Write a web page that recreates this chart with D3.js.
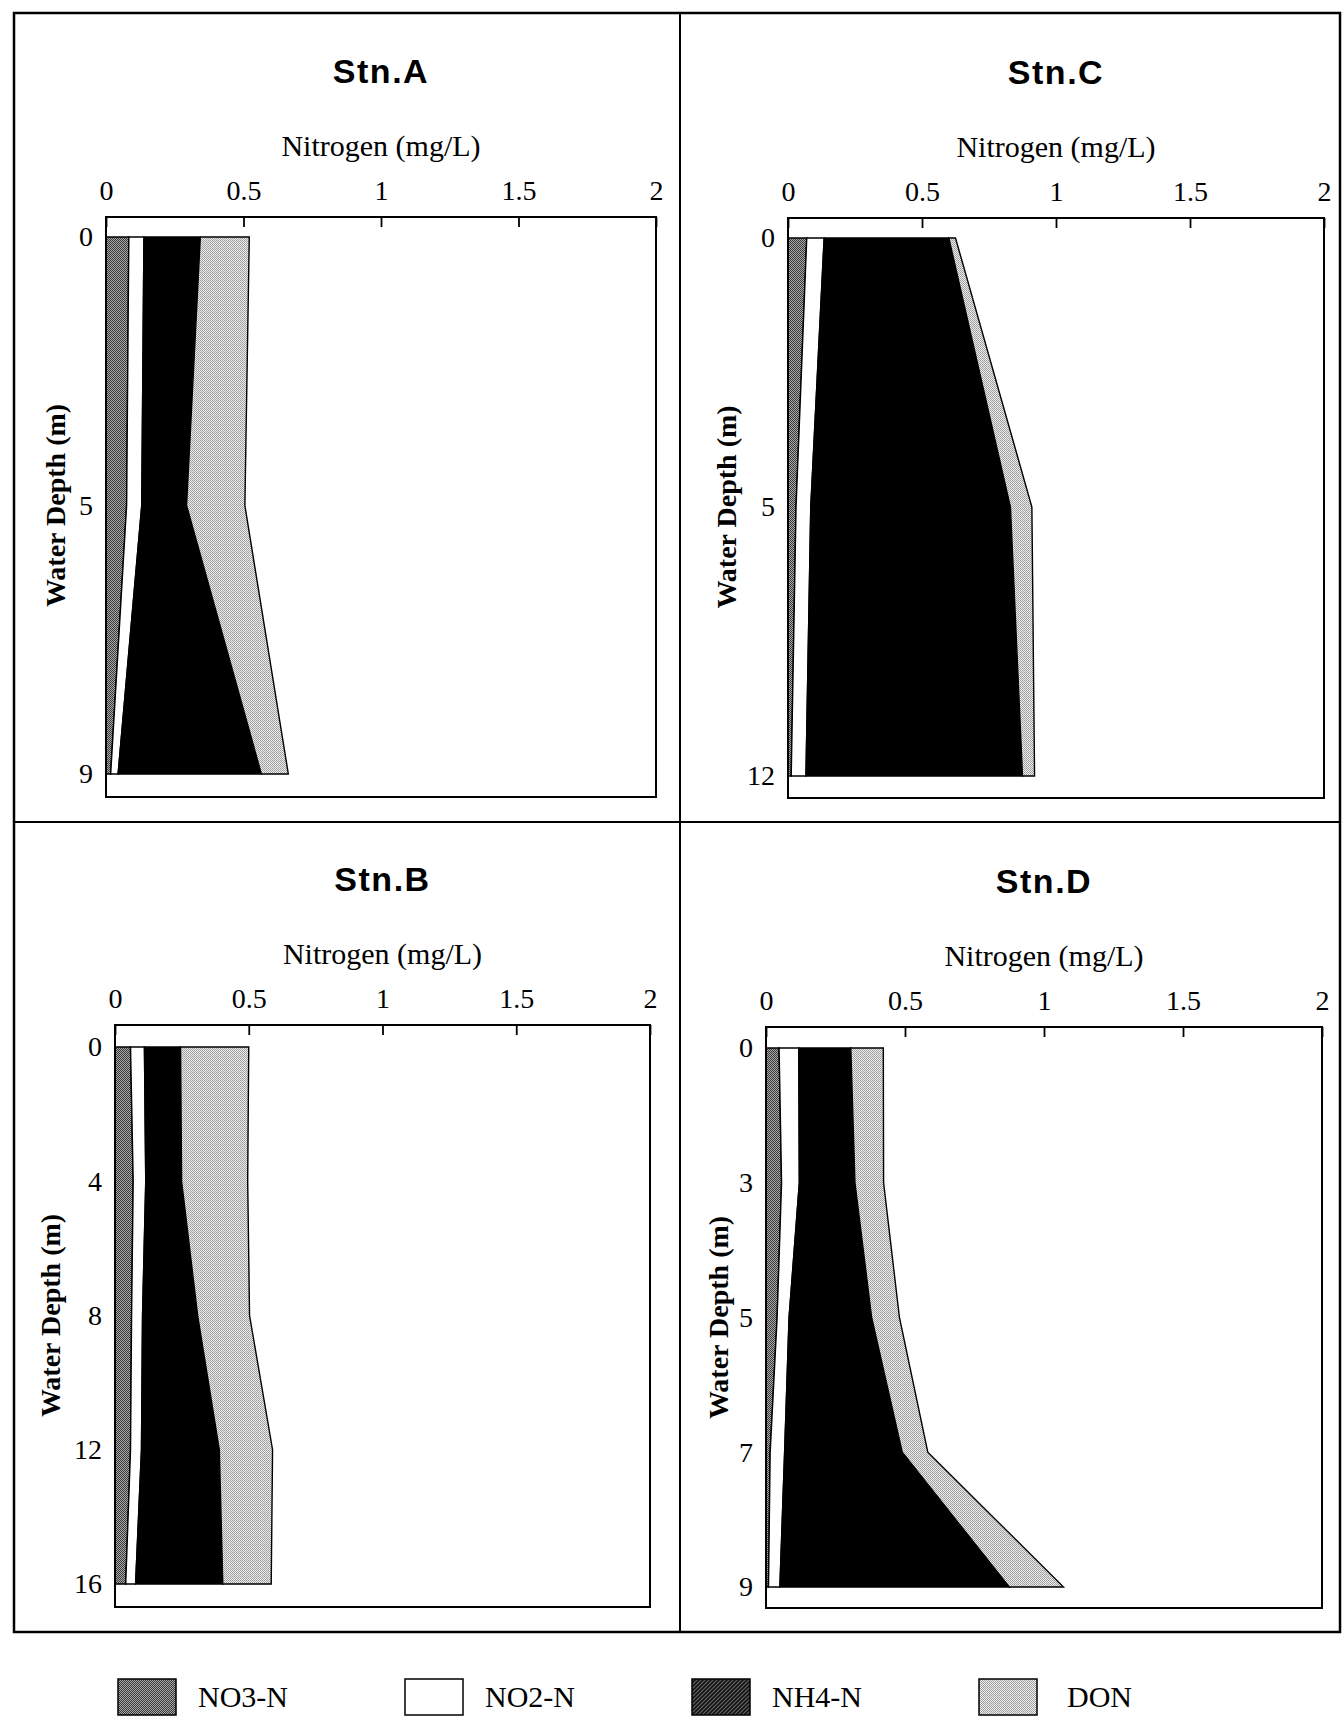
<!DOCTYPE html>
<html>
<head>
<meta charset="utf-8">
<script src="https://cdn.jsdelivr.net/npm/d3@7"></script>
<style>
  body { margin: 0; background: #fff; }
  svg { display: block; }
</style>
</head>
<body>
<svg id="chart" width="1342" height="1716"></svg>
<script>
// 系列名（由左至右堆疊）
const keys = ['NO3-N', 'NO2-N', 'NH4-N', 'DON']
const xTicks = [0, 0.5, 1, 1.5, 2]

// 各測站採樣深度 (m)
const depthA = [0, 5, 9]
const depthB = [0, 4, 8, 12, 16]
const depthC = [0, 5, 12]
const depthD = [0, 3, 5, 7, 9]

// 各測站濃度 (mg/L)
const no3A = [0.083, 0.075, 0.017]
const no2A = [0.055, 0.055, 0.027]
const nh4A = [0.205, 0.163, 0.521]
const donA = [0.178, 0.212, 0.098]

const no3B = [0.058, 0.068, 0.062, 0.058, 0.040]
const no2B = [0.052, 0.047, 0.041, 0.041, 0.037]
const nh4B = [0.135, 0.134, 0.206, 0.291, 0.326]
const donB = [0.255, 0.247, 0.194, 0.199, 0.181]

const no3C = [0.070, 0.030, 0.012]
const no2C = [0.065, 0.055, 0.055]
const nh4C = [0.465, 0.745, 0.808]
const donC = [0.025, 0.080, 0.045]

const no3D = [0.047, 0.056, 0.040, 0.015, 0.009]
const no2D = [0.071, 0.064, 0.043, 0.052, 0.041]
const nh4D = [0.187, 0.200, 0.297, 0.423, 0.825]
const donD = [0.117, 0.103, 0.100, 0.092, 0.195]

const svg = d3.select('#chart')

// 填充圖樣（模仿網點）
const defs = svg.append('defs')
const p1 = defs.append('pattern').attr('id', 'pNO3').attr('width', 2).attr('height', 2).attr('patternUnits', 'userSpaceOnUse')
p1.append('rect').attr('width', 2).attr('height', 2).attr('fill', '#a8a8a8')
p1.append('rect').attr('width', 1).attr('height', 1).attr('fill', '#3a3a3a')
p1.append('rect').attr('x', 1).attr('y', 1).attr('width', 1).attr('height', 1).attr('fill', '#3a3a3a')

const p2 = defs.append('pattern').attr('id', 'pDON').attr('width', 2).attr('height', 2).attr('patternUnits', 'userSpaceOnUse')
p2.append('rect').attr('width', 2).attr('height', 2).attr('fill', '#ececec')
p2.append('rect').attr('width', 1).attr('height', 1).attr('fill', '#9a9a9a')
p2.append('rect').attr('x', 1).attr('y', 1).attr('width', 1).attr('height', 1).attr('fill', '#a6a6a6')

const p3 = defs.append('pattern').attr('id', 'pNH4').attr('width', 4).attr('height', 4).attr('patternUnits', 'userSpaceOnUse')
p3.append('rect').attr('width', 4).attr('height', 4).attr('fill', '#666')
p3.append('path').attr('d', 'M-1,5 L5,-1 M-1,1 L1,-1 M3,5 L5,3').attr('stroke', '#111').attr('stroke-width', 1.6)

const fills = { 'NO3-N': 'url(#pNO3)', 'NO2-N': '#fff', 'NH4-N': '#000', DON: 'url(#pDON)' }
const legendFills = { 'NO3-N': 'url(#pNO3)', 'NO2-N': '#fff', 'NH4-N': 'url(#pNH4)', DON: 'url(#pDON)' }

// 面板位置
const panels = [
    { name: 'Stn.A', depth: depthA, vals: [no3A, no2A, nh4A, donA], x0: 106, x1: 656, top: 217, bottom: 797, d0: 237, d1: 774, yLab: 55 },
    { name: 'Stn.C', depth: depthC, vals: [no3C, no2C, nh4C, donC], x0: 788, x1: 1324, top: 218, bottom: 798, d0: 238, d1: 776, yLab: 726 },
    { name: 'Stn.B', depth: depthB, vals: [no3B, no2B, nh4B, donB], x0: 115, x1: 650, top: 1025, bottom: 1607, d0: 1047, d1: 1584, yLab: 50 },
    { name: 'Stn.D', depth: depthD, vals: [no3D, no2D, nh4D, donD], x0: 766, x1: 1322, top: 1027, bottom: 1608, d0: 1048, d1: 1587, yLab: 718 }
]

// 外框與分隔線
const frame = svg.append('g').attr('stroke', '#000').attr('fill', 'none')
frame.append('rect').attr('x', 14).attr('y', 13).attr('width', 1326).attr('height', 1619).attr('stroke-width', 2.5)
frame.append('line').attr('x1', 680).attr('x2', 680).attr('y1', 13).attr('y2', 1632).attr('stroke-width', 2)
frame.append('line').attr('x1', 14).attr('x2', 1340).attr('y1', 822).attr('y2', 822).attr('stroke-width', 2)

panels.forEach(function (p) {
    const g = svg.append('g')
    const x = d3.scaleLinear().domain([0, 2]).range([p.x0, p.x1])
    const y = d3.scalePoint().domain(p.depth).range([p.d0, p.d1])

    const rows = p.depth.map((d, i) => {
        const r = { depth: d }
        keys.forEach((k, j) => { r[k] = p.vals[j][i] })
        return r
    })
    const series = d3.stack().keys(keys)(rows)

    const area = d3.area()
        .y((d) => y(d.data.depth))
        .x0((d) => x(d[0]))
        .x1((d) => x(d[1]))

    g.append('g').selectAll('path')
        .data(series)
        .join('path')
        .attr('d', area)
        .attr('fill', (s) => fills[s.key])
        .attr('stroke', '#000')
        .attr('stroke-width', 1.4)
        .attr('stroke-linejoin', 'miter')

    // 繪圖區外框
    g.append('rect')
        .attr('x', p.x0).attr('y', p.top)
        .attr('width', p.x1 - p.x0).attr('height', p.bottom - p.top)
        .attr('fill', 'none').attr('stroke', '#000').attr('stroke-width', 2)

    // 上方 x 軸
    const xAxis = g.append('g')
        .attr('transform', `translate(0,${p.top})`)
        .call(d3.axisTop(x).tickValues(xTicks).tickSizeInner(-10).tickSizeOuter(0).tickPadding(17).tickFormat((d) => d))
    xAxis.select('.domain').remove()
    xAxis.selectAll('line').attr('stroke-width', 1.8)
    xAxis.selectAll('text')
        .attr('font-family', '"Liberation Serif", "Times New Roman", serif')
        .attr('font-size', 28).attr('fill', '#000')

    // 左方深度軸
    const yAxis = g.append('g')
        .attr('transform', `translate(${p.x0},0)`)
        .call(d3.axisLeft(y).tickSize(0).tickPadding(13))
    yAxis.select('.domain').remove()
    yAxis.selectAll('text')
        .attr('font-family', '"Liberation Serif", "Times New Roman", serif')
        .attr('font-size', 28).attr('fill', '#000')

    // 標題
    const cx = (p.x0 + p.x1) / 2
    g.append('text')
        .text(p.name)
        .attr('x', cx).attr('y', p.top - 134)
        .attr('text-anchor', 'middle')
        .attr('font-family', '"Liberation Sans", Arial, sans-serif')
        .attr('font-weight', 'bold')
        .attr('font-size', 34)
        .attr('letter-spacing', 1.5)

    g.append('text')
        .text('Nitrogen (mg/L)')
        .attr('x', cx).attr('y', p.top - 61)
        .attr('text-anchor', 'middle')
        .attr('font-family', '"Liberation Serif", "Times New Roman", serif')
        .attr('font-size', 30)

    g.append('text')
        .text('Water Depth (m)')
        .attr('transform', `translate(${p.yLab},${(p.d0 + p.d1) / 2}) rotate(-90)`)
        .attr('dy', '0.35em')
        .attr('text-anchor', 'middle')
        .attr('font-family', '"Liberation Serif", "Times New Roman", serif')
        .attr('font-weight', 'bold')
        .attr('font-size', 28)
})

// 圖例
const legendX = d3.scalePoint().domain(keys).range([118, 979])
const legend = svg.append('g').selectAll('g')
    .data(keys)
    .join('g')
    .attr('transform', (d) => `translate(${legendX(d)},1679)`)
legend.append('rect')
    .attr('width', 58).attr('height', 36)
    .attr('fill', (d) => legendFills[d])
    .attr('stroke', '#000').attr('stroke-width', 1.5)
legend.append('text')
    .text((d) => d)
    .attr('x', (d) => d === 'DON' ? 88 : 80)
    .attr('y', 28)
    .attr('font-family', '"Liberation Serif", "Times New Roman", serif')
    .attr('font-size', 30)
</script>
</body>
</html>
